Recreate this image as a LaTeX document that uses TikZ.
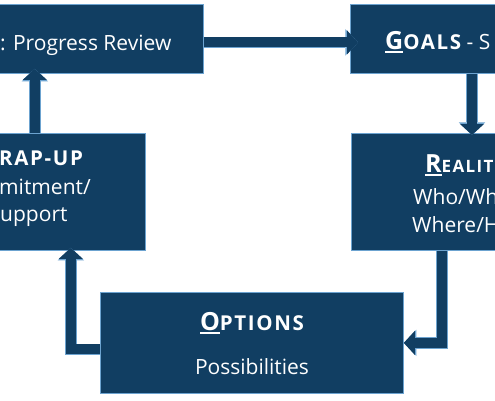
\documentclass[tikz,border=0pt]{standalone}
\usepackage{fontspec}
\setmainfont{Open Sans}
\newfontfamily\scfont[LetterSpace=8]{Open Sans}
\usetikzlibrary{arrows.meta}

\definecolor{boxnavy}{RGB}{17,62,98}
\definecolor{edgeblue}{RGB}{108,163,208}

% big underlined first letter, then small caps
\newcommand{\firstcap}[1]{\setbox0\hbox{\fontsize{25}{28}\selectfont\bfseries #1}\rlap{\rule[-3.5pt]{\wd0}{1.6pt}}\box0}
\newcommand{\restcaps}[2][20.5]{{\scfont\bfseries\fontsize{#1}{24}\selectfont #2}}

\tikzset{
  box/.style={rectangle, draw=edgeblue, fill=boxnavy, line width=0.8pt, inner sep=0pt, anchor=north west},
  txt/.style={inner sep=0pt, text=white, font=\fontsize{21}{25}\selectfont},
  arr/.style={line width=10pt, draw=boxnavy, -{Triangle[length=11pt,width=24pt,line width=0pt]},
    preaction={draw=edgeblue, line width=11.6pt, -{Triangle[length=12.6pt,width=26.4pt,line width=0pt]}}}
}

\begin{document}
\begin{tikzpicture}[x=1pt, y=-1pt]
\useasboundingbox (0,0) rectangle (495,400);
\clip (0,0) rectangle (495,400);
\fill[white] (0,0) rectangle (495,400);
% Boxes
\node[box, minimum width=300pt, minimum height=69pt] (review) at (-97,4) {};
\node[box, minimum width=300pt, minimum height=69pt] (goals) at (350,4) {};
\node[box, minimum width=200pt, minimum height=117pt] (wrapup) at (-55,133) {};
\node[box, minimum width=200pt, minimum height=117pt] (reality) at (351,133) {};
\node[box, minimum width=303pt, minimum height=101pt] (options) at (100,292) {};
% Texts
\node[txt, anchor=base west] (reviewtxt) at (0,50) {: Progress Review};
\node[txt, anchor=base west] (goalstxt) at (385,49) {\firstcap{G}\restcaps{OALS} - S};
\node[txt, anchor=base west] (wraptxt) at (-1,165) {\restcaps{RAP-UP}};
\node[txt, anchor=base west] (wraptxt2) at (-1,194) {mitment/};
\node[txt, anchor=base west] (wraptxt3) at (0,221) {upport};
\node[txt, anchor=base west] (realtxt) at (425,172) {\firstcap{R}\restcaps[17]{EALIT}};
\node[txt, anchor=base west] (realtxt2) at (413,204) {Who/Wh};
\node[txt, anchor=base west] (realtxt3) at (412,232) {Where/H};
\node[txt, anchor=base] (opttxt) at (252,330) {\firstcap{O}\restcaps{PTIONS}};
\node[txt, anchor=base] (opttxt2) at (252,374) {Possibilities};
% Arrows
\draw[arr, shorten >=-8pt] ([yshift=-3.5pt]review.east) -- ([yshift=-3.5pt]goals.west);
\draw[arr, shorten >=-2pt] ([xshift=122pt]goals.south west) -- ([xshift=121pt]reality.north west);
\draw[arr] ([xshift=91pt]reality.south west) |- (options.east);
\draw[arr, shorten >=-3pt] ([yshift=-6.5pt]options.west) -| ([xshift=-75pt]wrapup.south east);
\draw[arr, shorten >=-5pt] ([xshift=-111pt]wrapup.north east) -- ([xshift=-169pt]review.south east);
\end{tikzpicture}
\end{document}
